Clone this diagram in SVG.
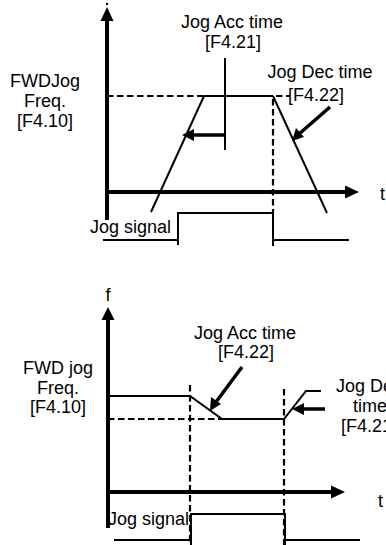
<svg xmlns="http://www.w3.org/2000/svg" width="386" height="545" viewBox="0 0 386 545">
<style>
text{font-family:"Liberation Sans",Arial,sans-serif;font-size:18px;fill:#000}
.c{text-anchor:middle}
.ax{stroke:#000;stroke-width:4;fill:none}
.th{stroke:#000;stroke-width:2;fill:none}
.tk{stroke:#000;stroke-width:3.5;fill:none}
.da{stroke:#000;stroke-width:2.2;fill:none;stroke-dasharray:6.5 3.5}
.ah{fill:#000;stroke:none}
</style>
<rect width="386" height="545" fill="#fff"/>
<g id="connectors">
<line class="ax" x1="107" y1="18" x2="107" y2="220"/>
<polygon class="ah" points="107,7 100.5,21 113.5,21"/>
<circle cx="107" cy="4" r="1.2" fill="#000"/>
<line class="ax" x1="107" y1="192" x2="348" y2="192"/>
<polygon class="ah" points="359,192 345,185.5 345,198.5"/>
<line class="da" x1="107" y1="96" x2="204" y2="96"/>
<line class="th" x1="204" y1="96" x2="273" y2="96"/>
<line class="da" x1="276" y1="96" x2="290" y2="96"/>
<line class="th" x1="204" y1="96" x2="151" y2="212"/>
<line class="th" x1="273" y1="96" x2="327" y2="213"/>
<line class="da" x1="273" y1="99" x2="273" y2="213"/>
<line class="th" x1="225" y1="58" x2="225" y2="150"/>
<line class="tk" x1="225" y1="135" x2="192" y2="135"/>
<polygon class="ah" points="182,135 194,129 194,141"/>
<line class="tk" x1="330" y1="107" x2="299" y2="134"/>
<polygon class="ah" points="292,141 296,128 304,137"/>
<polyline class="th" points="103,240 178,240 178,213 273,213 273,246"/>
<line class="th" x1="178" y1="213" x2="178" y2="245"/>
<line class="th" x1="273" y1="240" x2="349" y2="240"/>
<line class="ax" x1="108" y1="317" x2="108" y2="528"/>
<polygon class="ah" points="108,307 101.5,320 114.5,320"/>
<line class="ax" x1="108" y1="492" x2="334" y2="492"/>
<polygon class="ah" points="345,492 331,485.5 331,498.5"/>
<polyline class="th" points="108,396 190,396 222,419 284,419 306,391 321,391"/>
<line class="da" x1="108" y1="419" x2="222" y2="419"/>
<line class="da" x1="190" y1="385" x2="190" y2="545"/>
<line class="da" x1="284" y1="389" x2="284" y2="545"/>
<line class="tk" x1="242" y1="367" x2="216" y2="402"/>
<polygon class="ah" points="210,411 211,397 221,404"/>
<line class="tk" x1="325" y1="409" x2="302" y2="409"/>
<polygon class="ah" points="292,409 304,403 304,415"/>
<polyline class="th" points="114,540 191,540"/>
<polyline class="th" points="191,545 191,514 285,514 285,545"/>
<line class="th" x1="285" y1="540" x2="360" y2="540"/>
</g>
<g id="top-freq-label">
<text class="c" x="45" y="87">FWDJog</text>
<text class="c" x="45" y="107">Freq.</text>
<text class="c" x="45" y="127">[F4.10]</text>
</g>
<g id="top-acc-label">
<text class="c" x="232" y="28">Jog Acc time</text>
<text class="c" x="233" y="48">[F4.21]</text>
</g>
<g id="top-dec-label">
<text class="c" x="320" y="78">Jog Dec time</text>
<text x="288" y="101">[F4.22]</text>
</g>
<g id="top-t"><text x="380" y="200">t</text></g>
<g id="top-jog-signal"><text x="90" y="233">Jog signal</text></g>
<g id="bottom-f"><text class="c" x="108" y="301">f</text></g>
<g id="bottom-freq-label">
<text class="c" x="58" y="374">FWD jog</text>
<text class="c" x="58" y="394">Freq.</text>
<text class="c" x="58" y="413">[F4.10]</text>
</g>
<g id="bottom-acc-label">
<text class="c" x="245" y="339">Jog Acc time</text>
<text class="c" x="246" y="358">[F4.22]</text>
</g>
<g id="bottom-dec-label">
<text class="c" x="369" y="392">Jog Dec</text>
<text class="c" x="370" y="412">time</text>
<text class="c" x="369" y="432">[F4.21]</text>
</g>
<g id="bottom-t"><text x="378" y="507">t</text></g>
<g id="bottom-jog-signal"><text x="108" y="525">Jog signal</text></g>
</svg>
